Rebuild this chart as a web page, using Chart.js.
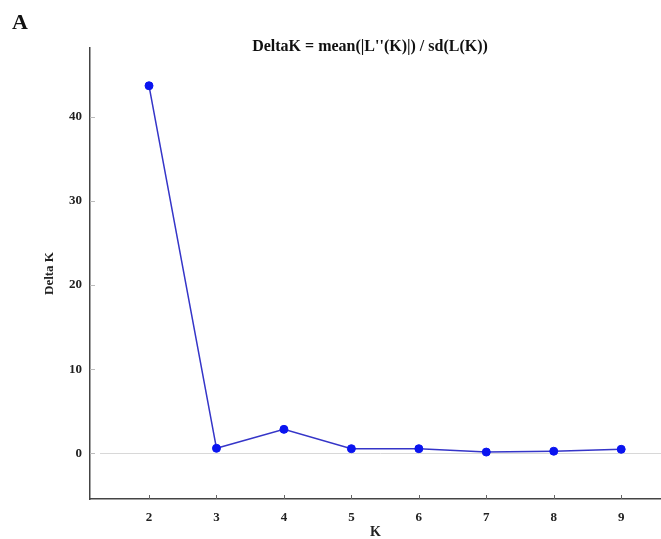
<!DOCTYPE html>
<html>
<head>
<meta charset="utf-8">
<script src="https://cdn.jsdelivr.net/npm/chart.js@4"></script>
<style>
    html, body { margin: 0; padding: 0; background: #fff; }
    #wrap { position: relative; width: 661px; height: 539px; }
</style>
</head>
<body>
<div id="wrap"><canvas id="deltak-canvas" width="661" height="539"></canvas></div>
<script>
// Delta K values
const kValues = [2, 3, 4, 5, 6, 7, 8, 9];
const deltaK = [43.7, 0.6, 2.85, 0.55, 0.55, 0.15, 0.25, 0.48];
const yTicks = [0, 10, 20, 30, 40];
const xTicks = [2, 3, 4, 5, 6, 7, 8, 9];

const panelLabel = 'A';
const chartTitle = "DeltaK = mean(|L''(K)|) / sd(L(K))";

const serif = '"Liberation Serif", "DejaVu Serif", serif';

// title, panel letter, zero line and the small inside tick marks
const decorations = {
    id: 'decorations',
    beforeDatasetsDraw(chart) {
        const ctx = chart.ctx;
        const area = chart.chartArea;
        const x = chart.scales.x;
        const y = chart.scales.y;
        ctx.save();
        // light zero line
        const y0 = Math.round(y.getPixelForValue(0)) + 0.5;
        ctx.strokeStyle = '#d8d8d8';
        ctx.lineWidth = 1;
        ctx.beginPath();
        ctx.moveTo(area.left + 10, y0);
        ctx.lineTo(area.right, y0);
        ctx.stroke();
        // y tick marks, inside the axis
        ctx.strokeStyle = '#bbbbbb';
        yTicks.forEach(v => {
            const py = Math.round(y.getPixelForValue(v)) + 0.5;
            ctx.beginPath();
            ctx.moveTo(area.left, py);
            ctx.lineTo(area.left + 5, py);
            ctx.stroke();
        });
        // x tick marks, upward from the bottom axis
        ctx.strokeStyle = '#666666';
        xTicks.forEach(v => {
            const px = Math.round(x.getPixelForValue(v)) + 0.5;
            ctx.beginPath();
            ctx.moveTo(px, area.bottom);
            ctx.lineTo(px, area.bottom - 4);
            ctx.stroke();
        });
        ctx.restore();
    },
    afterDraw(chart) {
        const ctx = chart.ctx;
        ctx.save();
        ctx.fillStyle = '#111';
        ctx.textBaseline = 'middle';
        ctx.font = 'bold 22px ' + serif;
        ctx.textAlign = 'left';
        ctx.fillText(panelLabel, 12, 23);
        ctx.font = 'bold 16px ' + serif;
        ctx.textAlign = 'center';
        ctx.fillText(chartTitle, 370, 47);
        ctx.restore();
    }
};

new Chart(document.getElementById('deltak-canvas'), {
    type: 'line',
    data: {
        datasets: [{
            label: 'Delta K',
            data: kValues.map((k, i) => ({ x: k, y: deltaK[i] })),
            borderColor: '#3535c8',
            borderWidth: 1.5,
            tension: 0,
            fill: false,
            pointRadius: 4,
            pointBackgroundColor: '#0a14f0',
            pointBorderColor: '#0a14f0',
            pointBorderWidth: 1
        }]
    },
    options: {
        responsive: false,
        animation: false,
        layout: { autoPadding: false, padding: { top: 48, right: 0, left: 0, bottom: 0 } },
        plugins: {
            legend: { display: false },
            tooltip: { enabled: false },
            title: { display: false }
        },
        scales: {
            x: {
                type: 'linear',
                min: 1.125,
                max: 9.59,
                afterFit: (scale) => { scale.height = 40; },
                afterBuildTicks: (scale) => { scale.ticks = xTicks.map(v => ({ value: v })); },
                grid: { display: false, drawTicks: false },
                border: { display: true, color: '#444', width: 1.5 },
                ticks: {
                    color: '#222',
                    padding: 11,
                    autoSkip: false,
                    maxRotation: 0,
                    font: { family: serif, size: 13, weight: 'bold' }
                },
                title: {
                    display: true,
                    text: 'K',
                    color: '#222',
                    padding: 0,
                    font: { family: serif, size: 14, weight: 'bold', lineHeight: 1 }
                }
            },
            y: {
                min: -5.43,
                max: 48.19,
                afterFit: (scale) => { scale.width = 90; },
                afterBuildTicks: (scale) => { scale.ticks = yTicks.map(v => ({ value: v })); },
                grid: { display: false, drawTicks: false },
                border: { display: true, color: '#444', width: 1.5 },
                ticks: {
                    color: '#222',
                    padding: 8,
                    font: { family: serif, size: 13, weight: 'bold' }
                },
                title: {
                    display: true,
                    text: 'Delta K',
                    color: '#222',
                    padding: { top: 42, bottom: 0 },
                    font: { family: serif, size: 13, weight: 'bold' }
                }
            }
        }
    },
    plugins: [decorations]
});
</script>
</body>
</html>
